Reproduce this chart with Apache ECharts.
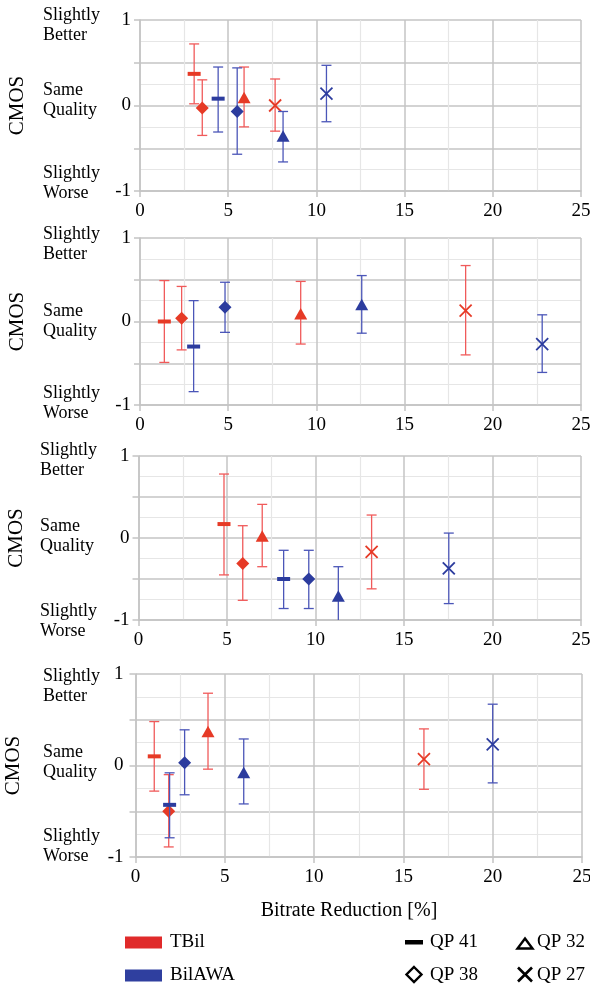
<!DOCTYPE html>
<html>
<head>
<meta charset="utf-8">
<script src="https://cdn.jsdelivr.net/npm/echarts@6/dist/echarts.min.js"></script>
<style>html,body{margin:0;padding:0;background:#fff;}#c{width:590px;height:987px;}</style>
</head>
<body>
<div id="c"></div>
<script>
// ---- data ----
const qpNames = ['QP 41', 'QP 38', 'QP 32', 'QP 27'];
const yTickLabels = { '1': '1', '0': '0', '-1': '-1' };
const scaleLabels = ['Slightly\nBetter', 'Same\nQuality', 'Slightly\nWorse'];

// Panel 1
const p1TBilX = [3.07, 3.53, 5.9, 7.66];
const p1TBilY = [0.37, -0.03, 0.09, 0.0];
const p1TBilLo = [0.02, -0.35, -0.25, -0.30];
const p1TBilHi = [0.72, 0.30, 0.45, 0.31];
const p1AwaX = [4.43, 5.51, 8.11, 10.57];
const p1AwaY = [0.08, -0.07, -0.36, 0.14];
const p1AwaLo = [-0.31, -0.57, -0.66, -0.19];
const p1AwaHi = [0.45, 0.44, -0.07, 0.47];
// Panel 2
const p2TBilX = [1.38, 2.36, 9.11, 18.46];
const p2TBilY = [0.0, 0.04, 0.09, 0.13];
const p2TBilLo = [-0.49, -0.34, -0.27, -0.40];
const p2TBilHi = [0.49, 0.42, 0.48, 0.67];
const p2AwaX = [3.04, 4.82, 12.57, 22.8];
const p2AwaY = [-0.30, 0.17, 0.20, -0.27];
const p2AwaLo = [-0.84, -0.13, -0.14, -0.61];
const p2AwaHi = [0.25, 0.47, 0.55, 0.08];
// Panel 3
const p3TBilX = [4.83, 5.89, 6.99, 13.17];
const p3TBilY = [0.17, -0.31, 0.02, -0.17];
const p3TBilLo = [-0.45, -0.76, -0.35, -0.62];
const p3TBilHi = [0.78, 0.15, 0.41, 0.28];
const p3AwaX = [8.2, 9.62, 11.29, 17.53];
const p3AwaY = [-0.50, -0.50, -0.71, -0.37];
const p3AwaLo = [-0.86, -0.86, -1.07, -0.80];
const p3AwaHi = [-0.15, -0.15, -0.35, 0.06];
// Panel 4
const p4TBilX = [1.05, 1.86, 4.06, 16.15];
const p4TBilY = [0.10, -0.50, 0.37, 0.07];
const p4TBilLo = [-0.28, -0.89, -0.04, -0.26];
const p4TBilHi = [0.48, -0.10, 0.79, 0.40];
const p4AwaX = [1.91, 2.75, 6.06, 20.0];
const p4AwaY = [-0.43, 0.03, -0.08, 0.23];
const p4AwaLo = [-0.79, -0.32, -0.42, -0.19];
const p4AwaHi = [-0.08, 0.39, 0.29, 0.67];

const panels = [
  { tbil: [p1TBilX, p1TBilY, p1TBilLo, p1TBilHi], awa: [p1AwaX, p1AwaY, p1AwaLo, p1AwaHi] },
  { tbil: [p2TBilX, p2TBilY, p2TBilLo, p2TBilHi], awa: [p2AwaX, p2AwaY, p2AwaLo, p2AwaHi] },
  { tbil: [p3TBilX, p3TBilY, p3TBilLo, p3TBilHi], awa: [p3AwaX, p3AwaY, p3AwaLo, p3AwaHi] },
  { tbil: [p4TBilX, p4TBilY, p4TBilLo, p4TBilHi], awa: [p4AwaX, p4AwaY, p4AwaLo, p4AwaHi] }
];

// ---- layout / style ----
const FONT = '"Liberation Serif", "Times New Roman", serif';
const gridBoxes = [
  { left: 140, top: 20, width: 441, height: 171, yLabelMargin: 9 },
  { left: 140, top: 238, width: 441, height: 167, yLabelMargin: 9 },
  { left: 138.5, top: 456, width: 442.5, height: 164, yLabelMargin: 9 },
  { left: 135.5, top: 674, width: 446.5, height: 183, yLabelMargin: 12 }
];
const scaleLabelPos = [
  { x: 43, ys: [25, 100, 183] },
  { x: 43, ys: [244, 321, 403] },
  { x: 40, ys: [460, 536, 621] },
  { x: 43, ys: [686, 762, 846] }
];
const RED = '#e63a26', RED_BAR = '#f05a5a';
const BLUE = '#2c3c9e', BLUE_BAR = '#4b56b8';
const MAJOR = '#c4c4c4', MINOR = '#e6e6e6';

function toItems(arr) {
  const [xs, ys, lo, hi] = arr;
  return xs.map((x, i) => [x, ys[i], lo[i], hi[i], i]);
}

function makeRender(color, barColor) {
  return function (params, api) {
    const x = api.value(0), y = api.value(1), lo = api.value(2), hi = api.value(3), qp = api.value(4);
    const c = api.coord([x, y]), a = api.coord([x, lo]), b = api.coord([x, hi]);
    const cap = 5;
    const bs = { stroke: barColor, lineWidth: 1.3 };
    const ch = [
      { type: 'line', shape: { x1: a[0], y1: a[1], x2: b[0], y2: b[1] }, style: bs },
      { type: 'line', shape: { x1: a[0] - cap, y1: a[1], x2: a[0] + cap, y2: a[1] }, style: bs },
      { type: 'line', shape: { x1: b[0] - cap, y1: b[1], x2: b[0] + cap, y2: b[1] }, style: bs }
    ];
    const cx = c[0], cy = c[1];
    if (qp === 0) {
      ch.push({ type: 'rect', shape: { x: cx - 6.5, y: cy - 2, width: 13, height: 4 }, style: { fill: color } });
    } else if (qp === 1) {
      ch.push({ type: 'polygon', shape: { points: [[cx, cy - 6.5], [cx + 6.5, cy], [cx, cy + 6.5], [cx - 6.5, cy]] }, style: { fill: color } });
    } else if (qp === 2) {
      ch.push({ type: 'polygon', shape: { points: [[cx, cy - 6], [cx + 6.5, cy + 5.5], [cx - 6.5, cy + 5.5]] }, style: { fill: color } });
    } else {
      const s = 6, xs = { stroke: color, lineWidth: 1.8 };
      ch.push({ type: 'line', shape: { x1: cx - s, y1: cy - s, x2: cx + s, y2: cy + s }, style: xs });
      ch.push({ type: 'line', shape: { x1: cx - s, y1: cy + s, x2: cx + s, y2: cy - s }, style: xs });
    }
    return { type: 'group', children: ch };
  };
}

const grid = [], xAxis = [], yAxis = [], series = [];
gridBoxes.forEach((g, i) => {
  grid.push({ left: g.left, top: g.top, width: g.width, height: g.height, containLabel: false, outerBoundsMode: 'none' });
  xAxis.push({
    type: 'value', gridIndex: i, min: 0, max: 25, interval: 5,
    axisLine: { show: true, onZero: false, lineStyle: { color: MAJOR, width: 1.5 } },
    axisTick: { show: true, length: 6, lineStyle: { color: MAJOR, width: 1.5 } },
    axisLabel: { color: '#000', fontFamily: FONT, fontSize: 19, margin: 11 },
    splitLine: { show: true, lineStyle: { color: MAJOR, width: 1.5 } },
    minorTick: { show: false, splitNumber: 2 },
    minorSplitLine: { show: true, lineStyle: { color: MINOR, width: 1.2 } }
  });
  yAxis.push({
    type: 'value', gridIndex: i, min: -1, max: 1, interval: 0.5,
    name: 'CMOS', nameLocation: 'middle', nameGap: 112, nameRotate: 90,
    nameTextStyle: { color: '#000', fontFamily: FONT, fontSize: 21 },
    axisLine: { show: true, onZero: false, lineStyle: { color: MAJOR, width: 1.5 } },
    axisTick: { show: true, length: 6, lineStyle: { color: MAJOR, width: 1.5 } },
    axisLabel: {
      color: '#000', fontFamily: FONT, fontSize: 19, margin: g.yLabelMargin,
      formatter: v => (yTickLabels[String(v)] !== undefined ? yTickLabels[String(v)] : '')
    },
    splitLine: { show: true, lineStyle: { color: MAJOR, width: 1.5 } },
    minorTick: { show: false, splitNumber: 2 },
    minorSplitLine: { show: true, lineStyle: { color: MINOR, width: 1.2 } }
  });
  series.push({
    type: 'custom', name: 'TBil', xAxisIndex: i, yAxisIndex: i, clip: true,
    itemStyle: { color: '#e02a2a' },
    encode: { x: 0, y: 1 },
    renderItem: makeRender(RED, RED_BAR),
    data: toItems(panels[i].tbil)
  });
  series.push({
    type: 'custom', name: 'BilAWA', xAxisIndex: i, yAxisIndex: i, clip: true,
    itemStyle: { color: '#2f3f9f' },
    encode: { x: 0, y: 1 },
    renderItem: makeRender(BLUE, BLUE_BAR),
    data: toItems(panels[i].awa)
  });
});

const graphic = [];
scaleLabelPos.forEach(p => {
  p.ys.forEach((yy, k) => {
    graphic.push({
      type: 'text', x: p.x, y: yy,
      style: { text: scaleLabels[k], fill: '#000', fontFamily: FONT, fontSize: 18, lineHeight: 20, align: 'left', verticalAlign: 'middle' }
    });
  });
});
graphic.push({
  type: 'text', x: 349, y: 911,
  style: { text: 'Bitrate Reduction [%]', fill: '#000', fontFamily: FONT, fontSize: 20, align: 'center', verticalAlign: 'middle' }
});
// QP symbol key
const keyTxt = (t, x, y) => ({ type: 'text', x: x, y: y, style: { text: t, fill: '#000', fontFamily: FONT, fontSize: 19, align: 'left', verticalAlign: 'middle' } });
graphic.push({ type: 'rect', shape: { x: 405, y: 940, width: 18, height: 4.5 }, style: { fill: '#000' } });
graphic.push(keyTxt(qpNames[0], 430, 942));
graphic.push({ type: 'polygon', shape: { points: [[525, 938.5], [532.5, 948.5], [517.5, 948.5]] }, style: { fill: 'none', stroke: '#000', lineWidth: 2.4 } });
graphic.push(keyTxt(qpNames[2], 537, 942));
graphic.push({ type: 'polygon', shape: { points: [[414, 967], [421.5, 974.5], [414, 982], [406.5, 974.5]] }, style: { fill: 'none', stroke: '#000', lineWidth: 2.4 } });
graphic.push(keyTxt(qpNames[1], 430, 975));
graphic.push({ type: 'line', shape: { x1: 518, y1: 967.5, x2: 532, y2: 981.5 }, style: { stroke: '#000', lineWidth: 2.6 } });
graphic.push({ type: 'line', shape: { x1: 518, y1: 981.5, x2: 532, y2: 967.5 }, style: { stroke: '#000', lineWidth: 2.6 } });
graphic.push(keyTxt(qpNames[3], 537, 975));

const chart = echarts.init(document.getElementById('c'), null, { renderer: 'canvas' });
chart.setOption({
  backgroundColor: '#fff',
  animation: false,
  grid, xAxis, yAxis, series, graphic,
  legend: {
    data: ['TBil', 'BilAWA'], orient: 'vertical', left: 125, top: 933, padding: 0,
    icon: 'rect', itemWidth: 37, itemHeight: 12, itemGap: 14,
    textStyle: { color: '#000', fontFamily: FONT, fontSize: 19, padding: [0, 0, 0, 3] },
    selectedMode: false
  }
});
</script>
</body>
</html>
